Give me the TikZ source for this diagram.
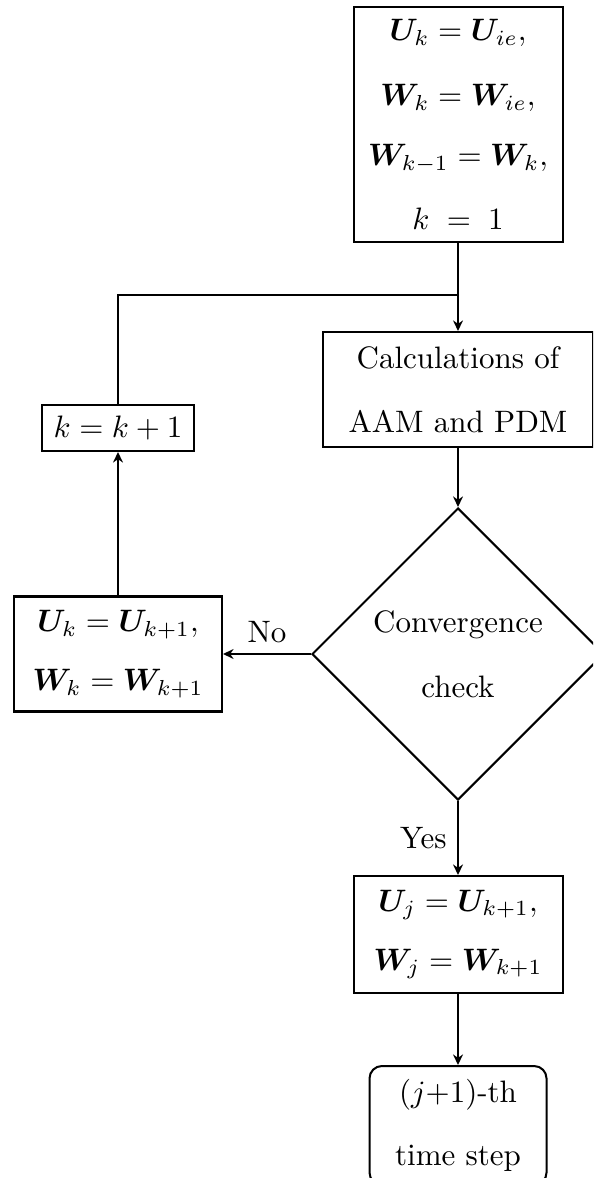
\documentclass[tikz,border=0pt]{standalone}
\usepackage{bm}
\usetikzlibrary{shapes.geometric,arrows.meta}
\begin{document}
\begin{tikzpicture}[
  x=0.3226pt, y=-0.3226pt,
  line width=0.65pt,
  box/.style 2 args={draw, align=center, inner sep=0pt,
    minimum width={#1*0.3226pt}, minimum height={#2*0.3226pt}},
  decision/.style 2 args={draw, diamond, aspect=1, align=center, inner sep=0pt,
    minimum width={#1*0.3226pt}, minimum height={#2*0.3226pt}},
  arr/.style={draw, -{Stealth[length=3.4pt,width=3.2pt,inset=1.1pt]}},
  link/.style={draw}
]
\path[use as bounding box, clip] (0,0) rectangle (593,1178);

% initialisation
\node[box={209}{235}, font=\fontsize{10}{19.35}\selectfont] (init) at (458,124.5)
  {$\bm{U}_k=\bm{U}_{ie},$\\[1.65pt]
   $\bm{W}_k=\bm{W}_{ie},$\\
   $\bm{W}_{k-1}=\bm{W}_k,$\\[1.25pt]
   $k\;=\;1$};

% main loop
\node[box={270}{115}, font=\fontsize{10}{20.8}\selectfont] (calc) at (458,389.5)
  {Calculations of\\AAM and PDM};
\node[decision={292}{292}, font=\fontsize{10}{21}\selectfont] (conv) at (458,654)
  {Convergence\\check};
\node[box={208}{115}, font=\fontsize{10}{19}\selectfont] (upd) at (118,654)
  {$\bm{U}_k=\bm{U}_{k+1},$\\ $\bm{W}_k=\bm{W}_{k+1}$};
\node[box={152}{46}] (inc) at (118,428) {$k=k+1$};

% exit of the loop
\node[box={209}{117}, font=\fontsize{10}{19}\selectfont] (save) at (458,934.5)
  {$\bm{U}_j=\bm{U}_{k+1},$\\ $\bm{W}_j=\bm{W}_{k+1}$};
\node[box={177}{119}, rounded corners=4pt, font=\fontsize{10}{20.3}\selectfont] (next) at (458,1125.5)
  {$(j{+}1)$-th\\time step};

\coordinate (join) at (458,295);

% connectors
\path[arr] (init) -- (calc);
\path[link] (inc) |- (join);
\path[arr] (calc) -- (conv);
\path[arr] (conv) -- node[above] {No} (upd);
\path[arr] (upd) -- (inc);
\path[arr] (conv) -- node[left] {Yes} (save);
\path[arr] (save) -- (next);
\end{tikzpicture}
\end{document}
